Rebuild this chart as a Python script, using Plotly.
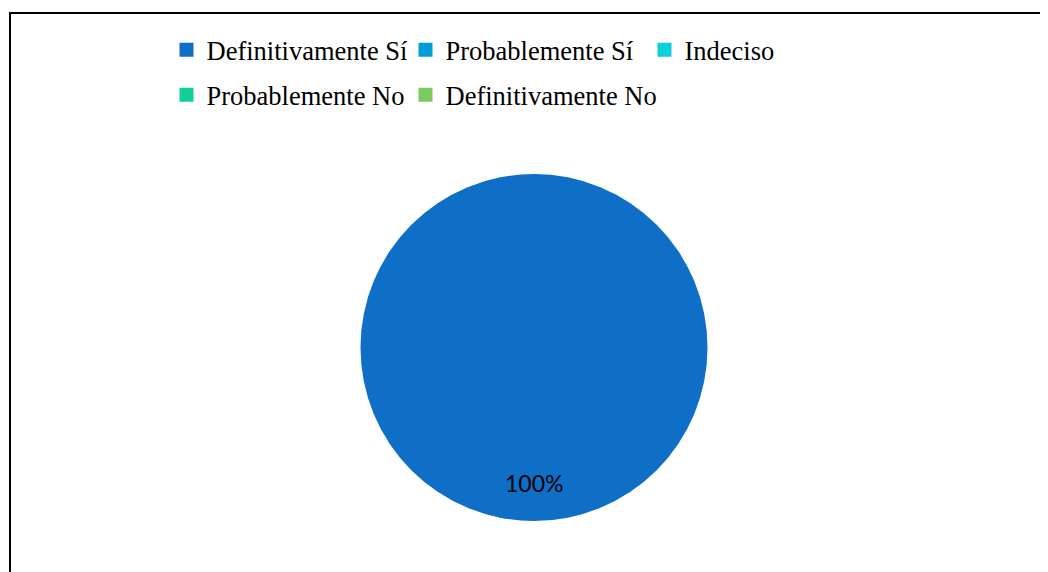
import plotly.graph_objects as go

categories = ["Definitivamente Sí", "Probablemente Sí", "Indeciso", "Probablemente No", "Definitivamente No"]
values = [100, 0, 0, 0, 0]
colors = ["#0F6FC6", "#009DD9", "#0BD0D9", "#10CF9B", "#7CCA62"]
legend_rows = ["legend", "legend", "legend", "legend2", "legend2"]

W, H = 1048, 572
OFF = 8  # page body margin
ML, MR, MT, MB = 100, 100, 0, 0
PW, PH = W - ML - MR, H - MT - MB


def px(x):
    return (x - OFF - ML) / PW


def py(y):
    return 1 - (y - OFF - MT) / PH


total = sum(values)
fig = go.Figure()
fig.add_trace(go.Pie(
    labels=categories,
    values=values,
    marker=dict(colors=colors),
    sort=False,
    direction="clockwise",
    textinfo="none",
    hoverinfo="label+percent",
    domain=dict(x=[px(360), px(708)], y=[py(521), py(174)]),
    showlegend=False,
))

# legend entries (one per category); last entry of each row gets room for its text
for i, (name, col, lg) in enumerate(zip(categories, colors, legend_rows)):
    last_in_row = (i == len(categories) - 1) or (legend_rows[i + 1] != lg)
    fig.add_trace(go.Scatter(
        x=[None], y=[None], mode="markers", name=name,
        marker=dict(symbol="square", size=14, color=col, line=dict(width=0)),
        legend=lg, legendwidth=260 if last_in_row else 194, hoverinfo="skip",
    ))

fig.add_annotation(
    x=px(534), y=py(499), xref="paper", yref="paper",
    text=f"{round(100 * values[0] / total)}%", showarrow=False,
    font=dict(family="Lato", size=23, color="#000000"),
)

fig.add_shape(type="rect", xref="paper", yref="paper",
              x0=px(10), x1=px(1200), y0=py(700), y1=py(13),
              line=dict(color="#000000", width=2), fillcolor="rgba(0,0,0,0)")

legend_style = dict(
    orientation="h", xanchor="left", yanchor="top",
    font=dict(family="Liberation Serif", size=26.5, color="#000000"),
    traceorder="normal", bgcolor="rgba(0,0,0,0)",
)

fig.update_layout(
    width=W, height=H,
    margin=dict(l=ML, r=MR, t=MT, b=MB),
    paper_bgcolor="white", plot_bgcolor="white",
    xaxis=dict(visible=False), yaxis=dict(visible=False),
    legend=dict(x=px(166.5), y=py(26), **legend_style),
    legend2=dict(x=px(166.5), y=py(71), **legend_style),
)

fig.write_html("out.html")
